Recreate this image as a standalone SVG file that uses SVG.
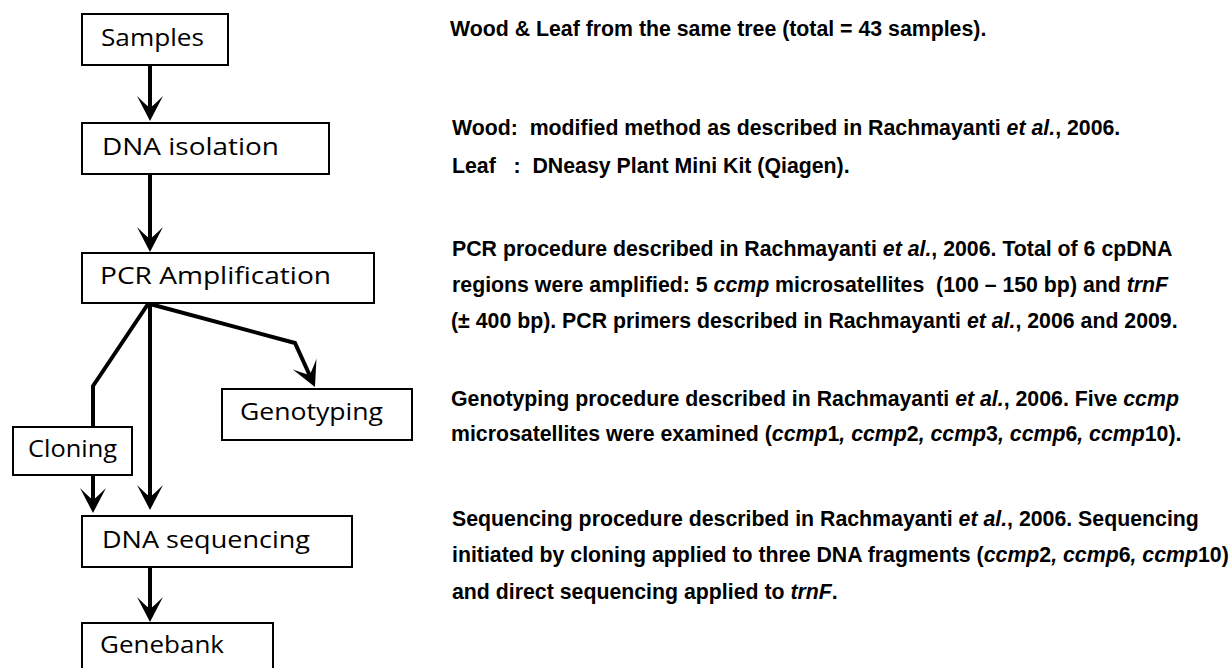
<svg xmlns="http://www.w3.org/2000/svg" width="1231" height="668" viewBox="0 0 1231 668">
  <style>
    .box { fill: #fff; stroke: #000; stroke-width: 2; }
    .lbl { font-family: "Open Sans", "DejaVu Sans", sans-serif; font-size: 24px; fill: #000; }
    .con { fill: none; stroke: #000; stroke-width: 4; stroke-linejoin: miter; }
    .note { font-family: "Liberation Sans", Arial, sans-serif; font-size: 21.3px; font-weight: bold; fill: #000; white-space: pre; }
    .it { font-style: italic; }
  </style>
  <defs>
    <marker id="ah" viewBox="-14 -14 28 28" refX="0" refY="0" markerWidth="28" markerHeight="28" markerUnits="userSpaceOnUse" orient="auto">
      <path d="M12,0 L-13,-13 Q-5,-5 -1,0 Q-5,5 -13,13 Z" fill="#000"/>
    </marker>
  </defs>

  <rect width="1231" height="668" fill="#fff"/>

  <!-- flow boxes -->
  <g id="samples">
    <rect class="box" x="82" y="14" width="146" height="51"/>
    <text class="lbl" x="101" y="46" textLength="103" lengthAdjust="spacingAndGlyphs">Samples</text>
  </g>
  <g id="dna-isolation">
    <rect class="box" x="82" y="123" width="247" height="51"/>
    <text class="lbl" x="102" y="155" textLength="177" lengthAdjust="spacingAndGlyphs">DNA isolation</text>
  </g>
  <g id="pcr">
    <rect class="box" x="82" y="253" width="292" height="50"/>
    <text class="lbl" x="100" y="284" textLength="231" lengthAdjust="spacingAndGlyphs">PCR Amplification</text>
  </g>
  <g id="genotyping">
    <rect class="box" x="222" y="389" width="190" height="51"/>
    <text class="lbl" x="240" y="420" textLength="143" lengthAdjust="spacingAndGlyphs">Genotyping</text>
  </g>
  <g id="cloning">
    <rect class="box" x="13" y="427" width="119" height="48"/>
    <text class="lbl" x="28" y="457" textLength="89" lengthAdjust="spacingAndGlyphs">Cloning</text>
  </g>
  <g id="dna-sequencing">
    <rect class="box" x="82" y="516" width="270" height="51"/>
    <text class="lbl" x="102" y="548" textLength="208" lengthAdjust="spacingAndGlyphs">DNA sequencing</text>
  </g>
  <g id="genebank">
    <rect class="box" x="82" y="623" width="191" height="51"/>
    <text class="lbl" x="100" y="653" textLength="124" lengthAdjust="spacingAndGlyphs">Genebank</text>
  </g>

  <!-- connectors -->
  <g id="connectors">
    <path class="con" d="M150,65 V109" marker-end="url(#ah)"/>
    <path class="con" d="M150,174 V240" marker-end="url(#ah)"/>
    <path class="con" d="M150,303 V498" marker-end="url(#ah)"/>
    <path class="con" d="M148,304 L93,386 V427"/>
    <path class="con" d="M93,475 V501" marker-end="url(#ah)"/>
    <path class="con" d="M150,304 L295,343 L310,376" marker-end="url(#ah)"/>
    <path class="con" d="M150,567 V610" marker-end="url(#ah)"/>
  </g>

  <!-- step descriptions -->
  <g id="notes">
    <text class="note" x="450" y="36">Wood &amp; Leaf from the same tree (total = 43 samples).</text>
    <text class="note" x="452" y="135">Wood:  modified method as described in Rachmayanti <tspan class="it">et al.</tspan>, 2006.</text>
    <text class="note" x="452" y="173">Leaf   :  DNeasy Plant Mini Kit (Qiagen).</text>
    <text class="note" x="452" y="256">PCR procedure described in Rachmayanti <tspan class="it">et al.</tspan>, 2006. Total of 6 cpDNA</text>
    <text class="note" x="452" y="292">regions were amplified: 5 <tspan class="it">ccmp</tspan> microsatellites  (100 – 150 bp) and <tspan class="it">trnF</tspan></text>
    <text class="note" x="451" y="328">(± 400 bp). PCR primers described in Rachmayanti <tspan class="it">et al.</tspan>, 2006 and 2009.</text>
    <text class="note" x="451" y="406">Genotyping procedure described in Rachmayanti <tspan class="it">et al.</tspan>, 2006. Five <tspan class="it">ccmp</tspan></text>
    <text class="note" x="451" y="441">microsatellites were examined (<tspan class="it">ccmp</tspan>1<tspan class="it">, ccmp</tspan>2<tspan class="it">, ccmp</tspan>3<tspan class="it">, ccmp</tspan>6<tspan class="it">, ccmp</tspan>10).</text>
    <text class="note" x="452" y="526">Sequencing procedure described in Rachmayanti <tspan class="it">et al.</tspan>, 2006. Sequencing</text>
    <text class="note" x="452" y="562">initiated by cloning applied to three DNA fragments (<tspan class="it">ccmp</tspan>2<tspan class="it">, ccmp</tspan>6<tspan class="it">, ccmp</tspan>10)</text>
    <text class="note" x="452" y="599">and direct sequencing applied to <tspan class="it">trnF</tspan>.</text>
  </g>
</svg>
